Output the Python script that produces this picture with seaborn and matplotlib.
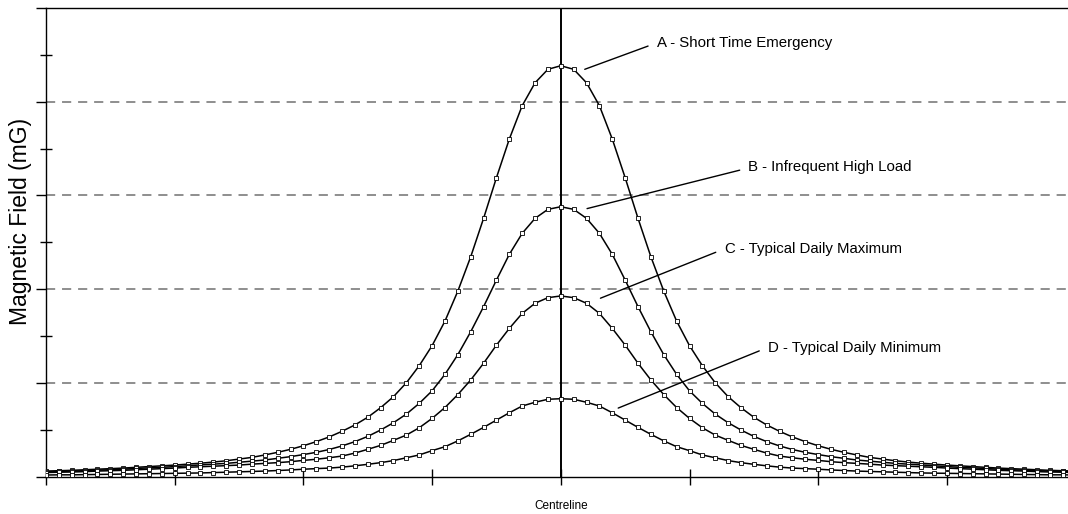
import numpy as np
import pandas as pd
import matplotlib
matplotlib.use("Agg")
import matplotlib.pyplot as plt
import seaborn as sns
from matplotlib.ticker import MultipleLocator

# distance from centreline (m) and field profiles (mG)
distance = list(range(-200, 205, 5))

short_time_emergency = [
    3.0, 3.2, 3.4, 3.7, 4.0, 4.3, 4.6, 5.0, 5.4, 5.8, 6.2, 6.7, 7.2, 7.8, 8.5, 9.4,
    10.3, 11.6, 13.0, 14.6, 16.5, 18.7, 21.2, 24.2, 27.6, 31.7, 36.8, 42.7, 50.1, 59.2,
    69.9, 83.0, 99.0, 117.3, 137.8, 159.5, 180.1, 197.9, 210.1, 217.3,
    219.2,
    217.3, 210.1, 197.9, 180.1, 159.5, 137.8, 117.3, 99.0, 83.0, 69.9,
    59.2, 50.1, 42.7, 36.8, 31.7, 27.6, 24.2, 21.2, 18.7, 16.5, 14.6, 13.0, 11.6, 10.3,
    9.4, 8.5, 7.8, 7.2, 6.7, 6.2, 5.8, 5.4, 5.0, 4.6, 4.3, 4.0, 3.7, 3.4, 3.2, 3.0,
]
infrequent_high_load = [
    2.6, 2.8, 3.0, 3.2, 3.5, 3.7, 4.0, 4.4, 4.7, 5.0, 5.4, 5.8, 6.3, 6.7, 7.1, 7.7,
    8.3, 8.9, 9.8, 10.7, 11.8, 13.0, 14.5, 16.4, 18.7, 21.5, 24.9, 28.8, 33.4, 39.1,
    45.8, 54.6, 65.1, 77.3, 90.7, 104.9, 118.6, 129.8, 137.8, 142.6,
    144.0,
    142.6, 137.8, 129.8, 118.6, 104.9, 90.7, 77.3, 65.1, 54.6, 45.8,
    39.1, 33.4, 28.8, 24.9, 21.5, 18.7, 16.4, 14.5, 13.0, 11.8, 10.7, 9.8, 8.9, 8.3,
    7.7, 7.1, 6.7, 6.3, 5.8, 5.4, 5.0, 4.7, 4.4, 4.0, 3.7, 3.5, 3.2, 3.0, 2.8, 2.6,
]
typical_daily_max = [
    2.2, 2.4, 2.5, 2.7, 3.0, 3.2, 3.4, 3.7, 4.0, 4.3, 4.6, 5.0, 5.3, 5.6, 5.9, 6.2,
    6.7, 7.1, 7.5, 8.0, 8.7, 9.3, 10.1, 11.0, 12.6, 14.6, 16.7, 19.4, 22.2, 26.1,
    31.1, 36.9, 43.8, 51.6, 60.5, 70.2, 79.1, 87.1, 92.5, 95.5,
    96.4,
    95.5, 92.5, 87.1, 79.1, 70.2, 60.5, 51.6, 43.8, 36.9, 31.1,
    26.1, 22.2, 19.4, 16.7, 14.6, 12.6, 11.0, 10.1, 9.3, 8.7, 8.0, 7.5, 7.1, 6.7,
    6.2, 5.9, 5.6, 5.3, 5.0, 4.6, 4.3, 4.0, 3.7, 3.4, 3.2, 3.0, 2.7, 2.5, 2.4, 2.2,
]
typical_daily_min = [
    0.9, 1.0, 1.0, 1.1, 1.2, 1.3, 1.4, 1.5, 1.6, 1.7, 1.8, 1.9, 2.0, 2.2, 2.4, 2.6,
    2.8, 3.0, 3.3, 3.6, 4.0, 4.3, 4.6, 5.1, 5.8, 6.6, 7.5, 8.6, 10.1, 11.6,
    13.9, 16.0, 19.1, 22.6, 26.3, 30.2, 34.1, 37.7, 39.7, 41.3,
    41.6,
    41.3, 39.7, 37.7, 34.1, 30.2, 26.3, 22.6, 19.1, 16.0, 13.9,
    11.6, 10.1, 8.6, 7.5, 6.6, 5.8, 5.1, 4.6, 4.3, 4.0, 3.6, 3.3, 3.0, 2.8,
    2.6, 2.4, 2.2, 2.0, 1.9, 1.8, 1.7, 1.6, 1.5, 1.4, 1.3, 1.2, 1.1, 1.0, 1.0, 0.9,
]

guide_levels = [50, 100, 150, 200]

labels = [
    "A - Short Time Emergency",
    "B - Infrequent High Load",
    "C - Typical Daily Maximum",
    "D - Typical Daily Minimum",
]
# (curve point, text anchor) for each leader line
leaders = [
    ((9.3, 217.3), (33.9, 229.7)),
    ((10.2, 143.0), (69.5, 163.5)),
    ((15.4, 95.2), (60.2, 119.7)),
    ((22.3, 36.6), (77.1, 67.1)),
]

df = pd.DataFrame({
    "distance": distance,
    "A": short_time_emergency,
    "B": infrequent_high_load,
    "C": typical_daily_max,
    "D": typical_daily_min,
})

sns.set_style("ticks", {"text.color": "black", "axes.labelcolor": "black",
                        "xtick.color": "black", "ytick.color": "black",
                        "axes.edgecolor": "black"})
plt.rcParams['font.family'] = ['Liberation Sans', 'DejaVu Sans']

fig = plt.figure(figsize=(10.68, 5.14), dpi=100)
ax = fig.add_axes([46 / 1068, (514 - 476.7) / 514, (1075.6 - 46) / 1068, (476.7 - 8) / 514])

for y in guide_levels:
    ax.axhline(y, color="#707070", lw=1.1, ls=(0, (6, 4.5)), zorder=1)
ax.axvline(0, color="black", lw=1.4, zorder=2)

for col in ["A", "B", "C", "D"]:
    sns.lineplot(data=df, x="distance", y=col, ax=ax, color="black", lw=1.1,
                 marker="s", markersize=3, markerfacecolor="white",
                 markeredgecolor="black", markeredgewidth=0.6, zorder=3)

for (p0, p1), text in zip(leaders, labels):
    ax.plot([p0[0], p1[0]], [p0[1], p1[1]], color="black", lw=1)
    ax.text(p1[0] + 3.4, p1[1] + 1.5, text, fontsize=10.8, ha="left", va="center",
            color="black")

ax.set_xlim(-200, 200)
ax.set_ylim(0, 250)
ax.set_xticks(range(-200, 201, 50))
ax.set_xticklabels(["Centreline" if v == 0 else "" for v in range(-200, 201, 50)])
ax.yaxis.set_major_locator(MultipleLocator(50))
ax.yaxis.set_minor_locator(MultipleLocator(25))
ax.set_yticklabels([])
ax.tick_params(axis="x", direction="inout", length=12, width=1, labelsize=8.5, pad=11,
               colors="black")
ax.tick_params(axis="y", which="major", direction="out", length=7, width=1, colors="black")
ax.tick_params(axis="y", which="minor", direction="inout", length=8, width=1, colors="black")

ax.set_xlabel("")
ax.set_ylabel("Magnetic Field (mG)", fontsize=16.5, color="black")
ax.yaxis.set_label_coords(-0.0136, 0.5445)
for s in ax.spines.values():
    s.set_color("black")
    s.set_linewidth(1)

fig.savefig("out.png", dpi=100)
